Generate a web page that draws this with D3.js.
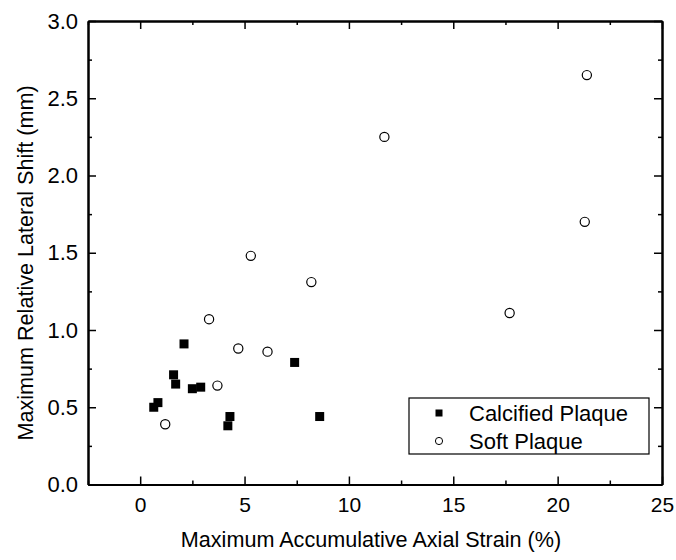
<!DOCTYPE html>
<html>
<head>
<meta charset="utf-8">
<script src="https://cdn.jsdelivr.net/npm/d3@7"></script>
<style>
  body { margin: 0; background: #fff; }
  text { font-family: "Liberation Sans", Arial, Helvetica, sans-serif; fill: #000; }
  .axis path, .axis line { stroke: #000; }
  .axis path { stroke-width: 2; }
  .axis line { stroke-width: 1.5; }
</style>
</head>
<body>
<svg id="chart"></svg>
<script>
// calcified plaque (filled squares)
const calcStrain = [2.1, 1.6, 1.7, 0.65, 0.85, 2.5, 2.9, 4.2, 4.3, 7.4, 8.6];
const calcShift  = [0.91, 0.71, 0.65, 0.50, 0.53, 0.62, 0.63, 0.38, 0.44, 0.79, 0.44];
// soft plaque (open circles)
const softStrain = [3.3, 4.7, 6.1, 3.7, 1.2, 5.3, 8.2, 11.7, 21.4, 21.3, 17.7];
const softShift  = [1.07, 0.88, 0.86, 0.64, 0.39, 1.48, 1.31, 2.25, 2.65, 1.70, 1.11];

const xTicks = [0, 5, 10, 15, 20, 25];
const xMinor = [-2.5, 2.5, 7.5, 12.5, 17.5, 22.5];
const yTicks = [0, 0.5, 1.0, 1.5, 2.0, 2.5, 3.0];
const yMinor = [0.25, 0.75, 1.25, 1.75, 2.25, 2.75];
const legendLabels = ["Calcified Plaque", "Soft Plaque"];

const W = 676, H = 560;
const margin = { top: 21, right: 14, bottom: 75.5, left: 88 };

const svg = d3.select("#chart").attr("width", W).attr("height", H);

const x = d3.scaleLinear().domain([-2.5, 25]).range([margin.left, W - margin.right]);
const y = d3.scaleLinear().domain([0, 3]).range([H - margin.bottom, margin.top]);

const fmt = d3.format(".1f");

// bottom axis with labels
const gx = svg.append("g").attr("class", "axis")
  .attr("transform", `translate(0,${y(0)})`)
  .call(d3.axisBottom(x).tickValues(xTicks).tickSize(-8).tickPadding(13).tickSizeOuter(0));
gx.selectAll("text").style("font-size", "21px");
svg.append("g").attr("class", "axis")
  .attr("transform", `translate(0,${y(0)})`)
  .call(d3.axisBottom(x).tickValues(xMinor).tickSize(-4).tickFormat("").tickSizeOuter(0));

// top axis, ticks only
svg.append("g").attr("class", "axis")
  .attr("transform", `translate(0,${y(3)})`)
  .call(d3.axisTop(x).tickValues(xTicks).tickSize(-8).tickFormat("").tickSizeOuter(0));
svg.append("g").attr("class", "axis")
  .attr("transform", `translate(0,${y(3)})`)
  .call(d3.axisTop(x).tickValues(xMinor).tickSize(-4).tickFormat("").tickSizeOuter(0));

// left axis with labels
const gy = svg.append("g").attr("class", "axis")
  .attr("transform", `translate(${x(-2.5)},0)`)
  .call(d3.axisLeft(y).tickValues(yTicks).tickSize(-8).tickPadding(10).tickFormat(fmt).tickSizeOuter(0));
gy.selectAll("text").style("font-size", "22px");
svg.append("g").attr("class", "axis")
  .attr("transform", `translate(${x(-2.5)},0)`)
  .call(d3.axisLeft(y).tickValues(yMinor).tickSize(-4).tickFormat("").tickSizeOuter(0));

// right axis, ticks only
svg.append("g").attr("class", "axis")
  .attr("transform", `translate(${x(25)},0)`)
  .call(d3.axisRight(y).tickValues(yTicks).tickSize(-8).tickFormat("").tickSizeOuter(0));
svg.append("g").attr("class", "axis")
  .attr("transform", `translate(${x(25)},0)`)
  .call(d3.axisRight(y).tickValues(yMinor).tickSize(-4).tickFormat("").tickSizeOuter(0));

// axis titles
svg.append("text")
  .attr("x", (x(-2.5) + x(25)) / 2 - 4)
  .attr("y", 547)
  .attr("text-anchor", "middle")
  .style("font-size", "21.6px")
  .text("Maximum Accumulative Axial Strain (%)");

svg.append("text")
  .attr("transform", "translate(33,263) rotate(-90)")
  .attr("text-anchor", "middle")
  .style("font-size", "21.6px")
  .text("Maximum Relative Lateral Shift (mm)");

// points
const calc = calcStrain.map((v, i) => ({ x: v, y: calcShift[i] }));
const soft = softStrain.map((v, i) => ({ x: v, y: softShift[i] }));

const sq = 9;
svg.append("g").selectAll("rect").data(calc).join("rect")
  .attr("x", d => x(d.x) - sq / 2)
  .attr("y", d => y(d.y) - sq / 2)
  .attr("width", sq).attr("height", sq)
  .attr("fill", "#000");

svg.append("g").selectAll("circle").data(soft).join("circle")
  .attr("cx", d => x(d.x))
  .attr("cy", d => y(d.y))
  .attr("r", 4.6)
  .attr("fill", "#fff")
  .attr("stroke", "#000")
  .attr("stroke-width", 1.2);

// legend
const lg = svg.append("g").attr("transform", "translate(409,398)");
lg.append("rect")
  .attr("width", 240).attr("height", 56)
  .attr("fill", "#fff").attr("stroke", "#000").attr("stroke-width", 1.2);
lg.append("rect")
  .attr("x", 30 - 3.5).attr("y", 15 - 3.5)
  .attr("width", 7).attr("height", 7).attr("fill", "#000");
lg.append("circle")
  .attr("cx", 30).attr("cy", 43).attr("r", 3.6)
  .attr("fill", "#fff").attr("stroke", "#000").attr("stroke-width", 1);
lg.selectAll("text.lab").data(legendLabels).join("text")
  .attr("class", "lab")
  .attr("x", 60)
  .attr("y", (d, i) => 15 + i * 28)
  .attr("dy", "0.35em")
  .style("font-size", "22px")
  .text(d => d);
</script>
</body>
</html>
